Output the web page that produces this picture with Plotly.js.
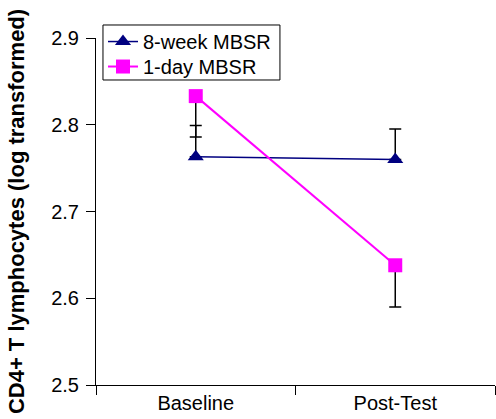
<!DOCTYPE html>
<html>
<head>
<meta charset="utf-8">
<script src="https://cdn.plot.ly/plotly-3.0.1.min.js"></script>
<style>html,body{margin:0;padding:0;background:#fff;}#chart{width:496px;height:419px;}</style>
</head>
<body>
<div id="chart"></div>
<script>
var categories = ['Baseline', 'Post-Test'];
var week8Values = [2.763, 2.760];
var week8ErrPlus = [0.036, 0.035];
var day1Values = [2.833, 2.638];
var day1ErrMinus = [0.047, 0.048];
var seriesNames = ['8-week MBSR', '1-day MBSR'];
var yTickVals = [2.5, 2.6, 2.7, 2.8, 2.9];
var yTickText = ['2.5', '2.6', '2.7', '2.8', '2.9'];

var font = 'Liberation Sans, Arial, Helvetica, sans-serif';

var traces = [
  {
    x: categories, y: week8Values, name: seriesNames[0], legend: 'legend',
    type: 'scatter', mode: 'lines+markers',
    line: {color: '#000080', width: 1.5},
    marker: {symbol: 'triangle-up', size: 14, color: '#000080'},
    error_y: {type: 'data', symmetric: false, array: week8ErrPlus, arrayminus: [0, 0],
              color: '#000000', thickness: 1.5, width: 6}
  },
  {
    x: categories, y: day1Values, name: seriesNames[1], legend: 'legend2',
    type: 'scatter', mode: 'lines+markers',
    line: {color: '#FF00FF', width: 2},
    marker: {symbol: 'square', size: 14, color: '#FF00FF'},
    error_y: {type: 'data', symmetric: false, array: [0, 0], arrayminus: day1ErrMinus,
              color: '#000000', thickness: 1.5, width: 6}
  }
];

var legendFont = {family: font, size: 20, color: '#000000'};

var layout = {
  width: 496, height: 419,
  margin: {l: 96, r: 1, t: 38, b: 34},
  paper_bgcolor: '#ffffff', plot_bgcolor: '#ffffff',
  font: {family: font, size: 20, color: '#000000'},
  showlegend: true,
  legend: {x: 0.0175, y: 1.046, xanchor: 'left', yanchor: 'top',
           bgcolor: 'rgba(0,0,0,0)', borderwidth: 0, font: legendFont},
  legend2: {x: 0.0175, y: 0.974, xanchor: 'left', yanchor: 'top',
           bgcolor: 'rgba(0,0,0,0)', borderwidth: 0, font: legendFont},
  shapes: [{type: 'rect', xref: 'paper', yref: 'paper',
            x0: 0.0175, x1: 0.461, y0: 0.879, y1: 1.0375,
            line: {color: '#000000', width: 1}, fillcolor: '#ffffff', layer: 'above'}],
  xaxis: {
    type: 'category', categoryorder: 'array', categoryarray: categories,
    range: [-0.5, 1.5], tickson: 'boundaries',
    showline: true, linecolor: '#000000', linewidth: 1,
    ticks: 'outside', ticklen: 9, tickcolor: '#000000', tickwidth: 1,
    showgrid: false, zeroline: false,
    tickfont: {family: font, size: 20, color: '#000000'}
  },
  yaxis: {
    range: [2.5, 2.9], tickmode: 'array', tickvals: yTickVals, ticktext: yTickText,
    showline: true, linecolor: '#000000', linewidth: 1,
    ticks: 'outside', ticklen: 9, tickcolor: '#000000', tickwidth: 1,
    ticklabelstandoff: 3,
    showgrid: false, zeroline: false,
    tickfont: {family: font, size: 20, color: '#000000'},
    title: {text: '<b>CD4+ T lymphocytes (log transformed)</b>', standoff: 20,
            font: {family: font, size: 22, color: '#000000'}}
  }
};

Plotly.newPlot('chart', traces, layout, {displayModeBar: false, staticPlot: true});
</script>
</body>
</html>
